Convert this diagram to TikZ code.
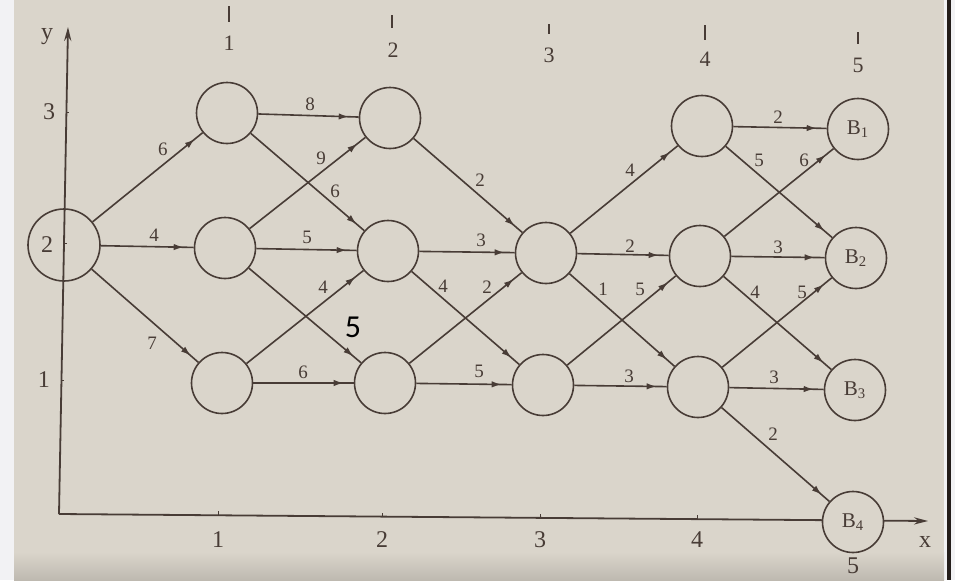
\documentclass[tikz,border=0pt]{standalone}
\usepackage{fontspec}
\setmainfont{Liberation Serif}
\newfontfamily\notefont{Carlito}
\usetikzlibrary{arrows.meta,decorations.markings}
\definecolor{paper}{RGB}{218,213,203}
\definecolor{ink}{RGB}{72,60,54}
\definecolor{rim}{RGB}{242,242,244}
\definecolor{shadow}{RGB}{190,185,176}

\tikzset{
  state/.style={circle, draw=ink, line width=0.8pt, minimum size=30.5pt, inner sep=0pt,
    text=ink, font=\fontsize{10.5}{12}\selectfont},
  cost/.style={font=\fontsize{9.5}{11}\selectfont, inner sep=0.5pt, text=ink},
  axislabel/.style={font=\fontsize{12}{14}\selectfont, inner sep=0.5pt, text=ink},
  stagelabel/.style={font=\fontsize{11}{13}\selectfont, inner sep=0.5pt, text=ink},
  flow/.style={draw=ink, line width=0.8pt, postaction={decorate},
    decoration={markings, mark=at position -5pt with {\arrow{Latex[length=5pt,width=3.2pt]}}}},
  axis/.style={draw=ink, line width=0.9pt, -{Stealth[length=7pt,width=3.6pt]}},
}

\begin{document}
\begin{tikzpicture}[x=0.5pt, y=-0.5pt]
  \useasboundingbox (0,0) rectangle (955,580);
  % paper
  \fill[rim] (0,0) rectangle (955,580);
  \fill[paper] (14,0) rectangle (944,580);
  \shade[top color=paper, bottom color=shadow] (14,552) rectangle (944,580);
  \fill[ink!50!black] (947,0) rectangle (951,580);

  % axes
  \coordinate (o) at (59,514);
  \coordinate (ytop) at (68,27);
  \coordinate (xend) at (928,521);
  \draw[axis] (o) -- (ytop);
  \draw[axis] (o) -- (xend);
  \draw[ink, line width=0.5pt] (66,112) -- (69,112);
  \draw[ink, line width=0.5pt] (64,243) -- (67,243);
  \draw[ink, line width=0.5pt] (61,380) -- (64,380);
  \draw[ink, line width=0.5pt] (218,515) -- (218,511);
  \draw[ink, line width=0.5pt] (382,517) -- (382,513);
  \draw[ink, line width=0.5pt] (540,518) -- (540,514);
  \draw[ink, line width=0.5pt] (697,519) -- (697,515);
  \node[axislabel] (ly) at (47,37) {y};
  \node[axislabel] (ly3) at (49,112) {3};
  \node[axislabel] (ly1) at (44,380) {1};
  \node[axislabel] (lx1) at (218,540) {1};
  \node[axislabel] (lx2) at (382,540) {2};
  \node[axislabel] (lx3) at (540,540) {3};
  \node[axislabel] (lx4) at (697,540) {4};
  \node[axislabel] (lx) at (925,542) {x};
  \node[axislabel] (lx5) at (853,566) {5};

  % stage marks on top
  \draw[ink, line width=0.6pt] (229,6) -- (229,22);
  \draw[ink, line width=0.6pt] (392,15) -- (392,28);
  \draw[ink, line width=0.6pt] (549,24) -- (549,34);
  \draw[ink, line width=0.6pt] (705,25) -- (705,40);
  \draw[ink, line width=0.6pt] (858,32) -- (858,44);
  \node[stagelabel] (k1) at (229,43) {1};
  \node[stagelabel] (k2) at (393,50) {2};
  \node[stagelabel] (k3) at (549,55) {3};
  \node[stagelabel] (k4) at (705,59) {4};
  \node[stagelabel] (k5) at (858,65) {5};

  % states
  \node[state, minimum size=36pt] (s) at (64,245) {};
  \node[axislabel] (s2) at (47,245) {2};
  \node[state] (n11) at (227,113) {};
  \node[state] (n12) at (225,248) {};
  \node[state] (n13) at (222,383) {};
  \node[state] (n21) at (390,118) {};
  \node[state] (n22) at (388,251) {};
  \node[state] (n23) at (385,383) {};
  \node[state] (n32) at (546,253) {};
  \node[state] (n33) at (543,385) {};
  \node[state] (n41) at (702,126) {};
  \node[state] (n42) at (700,256) {};
  \node[state] (n43) at (698,387) {};
  \node[state] (t1) at (858,129) {B\textsubscript{1}};
  \node[state] (t2) at (856,258) {B\textsubscript{2}};
  \node[state] (t3) at (855,390) {B\textsubscript{3}};
  \node[state, fill=paper] (t4) at (853,522) {B\textsubscript{4}};

  % arcs
  \draw[flow] (s) -- (n11);
  \draw[flow] (s) -- (n12);
  \draw[flow] (s) -- (n13);
  \draw[flow] (n11) -- (n21);
  \draw[flow] (n11) -- (n22);
  \draw[flow] (n12) -- (n21);
  \draw[flow] (n12) -- (n22);
  \draw[flow] (n12) -- (n23);
  \draw[flow] (n13) -- (n22);
  \draw[flow] (n13) -- (n23);
  \draw[flow] (n21) -- (n32);
  \draw[flow] (n22) -- (n32);
  \draw[flow] (n22) -- (n33);
  \draw[flow] (n23) -- (n32);
  \draw[flow] (n23) -- (n33);
  \draw[flow] (n32) -- (n41);
  \draw[flow] (n32) -- (n42);
  \draw[flow] (n32) -- (n43);
  \draw[flow] (n33) -- (n42);
  \draw[flow] (n33) -- (n43);
  \draw[flow] (n41) -- (t1);
  \draw[flow] (n41) -- (t2);
  \draw[flow] (n42) -- (t1);
  \draw[flow] (n42) -- (t2);
  \draw[flow] (n42) -- (t3);
  \draw[flow] (n43) -- (t2);
  \draw[flow] (n43) -- (t3);
  \draw[flow] (n43) -- (t4);

  % costs
  \node[cost] (w1) at (163,149) {6};
  \node[cost] (w2) at (154,235) {4};
  \node[cost] (w3) at (152,343) {7};
  \node[cost] (w4) at (310,104) {8};
  \node[cost] (w5) at (335,191) {6};
  \node[cost] (w6) at (321,158) {9};
  \node[cost] (w7) at (307,237) {5};
  \node[font=\notefont\fontsize{16}{18}\selectfont, inner sep=0.5pt] (w8) at (353,327) {5};
  \node[cost] (w9) at (323,287) {4};
  \node[cost] (w10) at (303,372) {6};
  \node[cost] (w11) at (480,180) {2};
  \node[cost] (w12) at (481,240) {3};
  \node[cost] (w13) at (443,286) {4};
  \node[cost] (w14) at (487,287) {2};
  \node[cost] (w15) at (479,371) {5};
  \node[cost] (w16) at (630,170) {4};
  \node[cost] (w17) at (630,246) {2};
  \node[cost] (w18) at (603,289) {1};
  \node[cost] (w19) at (640,289) {5};
  \node[cost] (w20) at (629,376) {3};
  \node[cost] (w21) at (778,117) {2};
  \node[cost] (w22) at (759,160) {5};
  \node[cost] (w23) at (804,160) {6};
  \node[cost] (w24) at (778,247) {3};
  \node[cost] (w25) at (755,292) {4};
  \node[cost] (w26) at (802,292) {5};
  \node[cost] (w27) at (774,377) {3};
  \node[cost] (w28) at (773,434) {2};
\end{tikzpicture}
\end{document}
